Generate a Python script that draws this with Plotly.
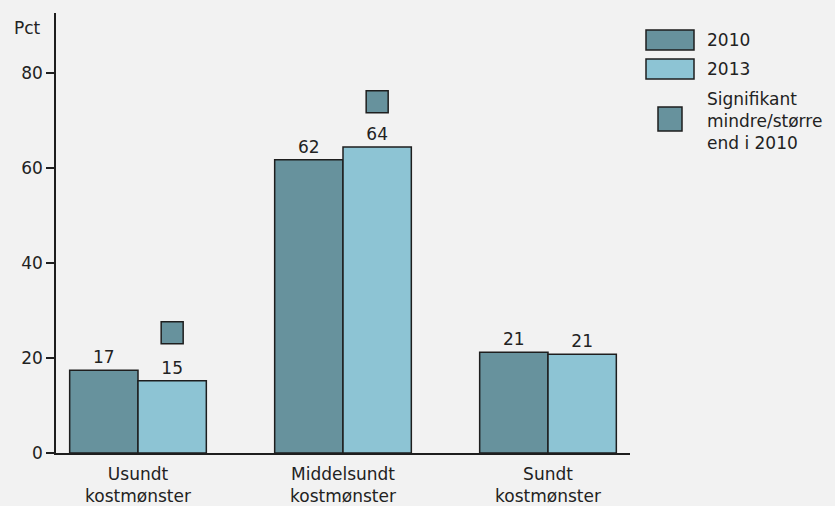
import plotly.graph_objects as go

categories = ["Usundt<br>kostmønster", "Middelsundt<br>kostmønster", "Sundt<br>kostmønster"]
values_2010 = [17.4, 61.7, 21.2]
values_2013 = [15.2, 64.4, 20.8]
labels_2010 = ["17", "62", "21"]
labels_2013 = ["15", "64", "21"]
# significance markers (2013 vs 2010), None = not significant
signif_2013 = [25.3, 73.9, None]
y_ticks = [0, 20, 40, 60, 80]

DARK = "#67929d"
LIGHT = "#8dc4d4"
EDGE = "#1e1e1e"
TEXT = "#222222"
BG = "#f2f2f2"
FONT = "DejaVu Sans"
FS = 17

W, H = 835, 506
L, R, T, B = 56, 205, 13, 53
BAR_W = 1 / 3

xs = list(range(len(categories)))

fig = go.Figure()
fig.add_trace(go.Bar(
    x=xs, y=values_2010, width=BAR_W, offset=-BAR_W,
    marker=dict(color=DARK, line=dict(color=EDGE, width=1.5)),
    text=labels_2010, textposition="outside", cliponaxis=False,
    textfont=dict(size=FS, color=TEXT, family=FONT), name="2010",
))
fig.add_trace(go.Bar(
    x=xs, y=values_2013, width=BAR_W, offset=0,
    marker=dict(color=LIGHT, line=dict(color=EDGE, width=1.5)),
    text=labels_2013, textposition="outside", cliponaxis=False,
    textfont=dict(size=FS, color=TEXT, family=FONT), name="2013",
))
sx = [x + BAR_W / 2 for x, s in zip(xs, signif_2013) if s is not None]
sy = [s for s in signif_2013 if s is not None]
fig.add_trace(go.Scatter(
    x=sx, y=sy, mode="markers", cliponaxis=False,
    marker=dict(symbol="square", size=22, color=DARK, line=dict(color=EDGE, width=1.5)),
    name="Signifikant",
))

# custom legend (boxes drawn in paper space)
def px_x(px):
    return (px - L) / (W - L - R)

def px_y(py):
    return (H - B - py) / (H - T - B)

legend_boxes = [
    (646, 30, 694, 50, DARK),
    (646, 59, 694, 79, LIGHT),
    (658, 107, 682, 131, DARK),
]
for x0, y0, x1, y1, col in legend_boxes:
    fig.add_shape(type="rect", xref="paper", yref="paper",
                  x0=px_x(x0), x1=px_x(x1), y0=px_y(y1), y1=px_y(y0),
                  fillcolor=col, line=dict(color=EDGE, width=1.5))
legend_texts = [
    (705, 40, "2010"),
    (705, 69, "2013"),
    (705, 121, "Signifikant<br>mindre/større<br>end i 2010"),
]
for x, y, t in legend_texts:
    fig.add_annotation(xref="paper", yref="paper", x=px_x(x), y=px_y(y),
                       text=t, showarrow=False, xanchor="left", yanchor="middle",
                       align="left", font=dict(size=FS, color=TEXT, family=FONT))

fig.add_annotation(xref="paper", yref="paper", x=px_x(43), y=px_y(28),
                   text="Pct", showarrow=False, xanchor="right", yanchor="middle",
                   font=dict(size=FS, color=TEXT, family=FONT))

fig.update_layout(
    width=W, height=H, margin=dict(l=L, r=R, t=T, b=B, autoexpand=False),
    paper_bgcolor=BG, plot_bgcolor=BG, showlegend=False,
    font=dict(family=FONT, size=FS, color=TEXT),
    barmode="overlay",
)
fig.update_xaxes(
    range=[-0.4, 2.4], tickvals=xs, ticktext=categories, automargin=False,
    showgrid=False, zeroline=False, showline=True, linecolor=EDGE, linewidth=1.5,
    ticks="", tickfont=dict(size=FS, color=TEXT), ticklabelstandoff=5,
)
fig.update_yaxes(
    range=[0, 92.6], tickvals=y_ticks, showgrid=False, zeroline=False, automargin=False,
    showline=True, linecolor=EDGE, linewidth=1.5, ticks="outside", ticklen=8,
    tickcolor=EDGE, tickwidth=1.5, tickfont=dict(size=FS, color=TEXT),
)

fig.write_html("out.html", config={"displayModeBar": False},
               post_script="document.body.style.margin='0';")
